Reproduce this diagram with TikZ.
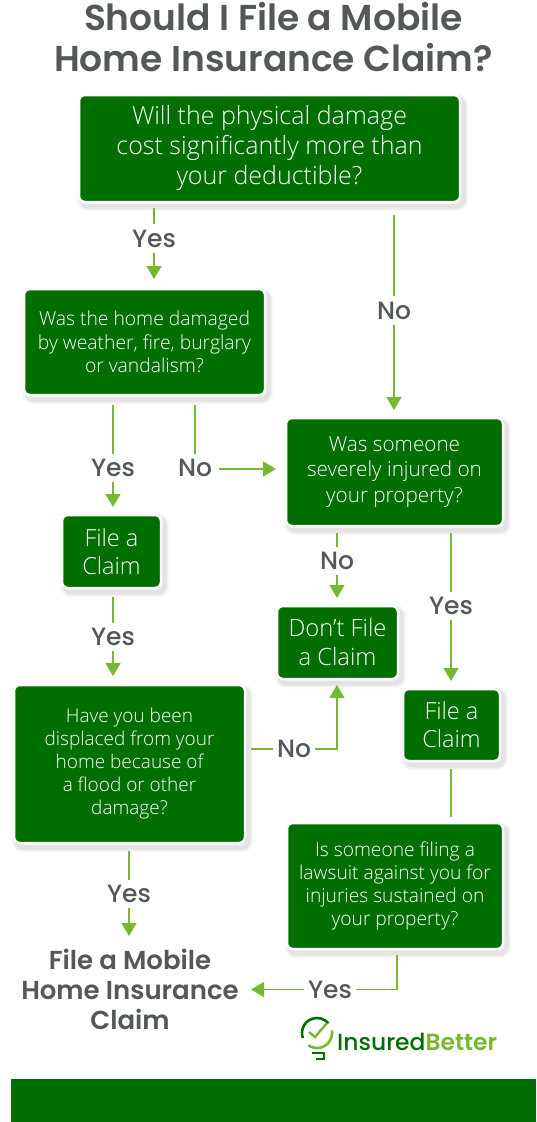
\documentclass[tikz,border=0pt]{standalone}
\usepackage{fontspec}
\usetikzlibrary{arrows.meta}
\setmainfont{Poppins}
\newfontfamily\ttlfont{Poppins SemiBold}
\newfontfamily\lblfont{Poppins Medium}
\newfontfamily\boxfont{Open Sans Light}
\definecolor{dgreen}{HTML}{006F00}
\definecolor{lgreen}{HTML}{76B82F}
\definecolor{tgrey}{HTML}{53585A}
\tikzset{
  softshadow/.style={
    preaction={draw=black,draw opacity=.025,line width=11pt,fill=none,transform canvas={shift={(3pt,-4pt)}}},
    preaction={draw=black,draw opacity=.035,line width=8pt,fill=none,transform canvas={shift={(3pt,-4pt)}}},
    preaction={draw=black,draw opacity=.05,line width=5pt,fill=none,transform canvas={shift={(3pt,-4pt)}}},
  },
  card/.style={softshadow,draw=white,line width=2.5pt,fill=dgreen,rounded corners=6pt,text=white,
    align=center,inner sep=0pt},
  lbl/.style={text=tgrey,font=\lblfont\fontsize{25}{25}\selectfont,inner xsep=4pt,inner ysep=0pt,minimum height=28pt},
  conn/.style={draw=lgreen,line width=1.1pt},
  arr/.style={conn,-{Triangle[length=13pt,width=15pt]}},
}
\newcommand{\cardat}[8]{% name, x1,y1,x2,y2, size, leading, text
  \node[card,font=\boxfont\fontsize{#6}{#7}\selectfont,minimum width=#4pt-#2pt+2pt,minimum height=#5pt-#3pt+2pt] (#1) at ({(#2+#4)/2},{(#3+#5)/2}) {#8};}
\begin{document}
\begin{tikzpicture}[x=1pt,y=-1pt]
\useasboundingbox (0,0) rectangle (537,1122);
\fill[white] (0,0) rectangle (537,1122);
\node[font=\ttlfont\fontsize{36}{40.5}\selectfont,text=tgrey,align=center,inner sep=0pt] (title) at (273.5,37) {Should I File a Mobile\\Home Insurance Claim?};
\fill[dgreen] (11,1079) rectangle (536,1122);
\cardat{q1}{80}{96}{459}{201}{25}{30}{Will the physical damage\\cost significantly more than\\your deductible?}
\cardat{q2}{25}{290}{264}{394}{19.3}{23.5}{Was the home damaged\\by weather, fire, burglary\\or vandalism?}
\cardat{q3}{287}{419}{502}{525}{20.7}{25.5}{Was someone\\severely injured on\\your property?}
\cardat{f1}{63}{516}{160}{587}{23.5}{28}{File a\\Claim}
\cardat{d1}{278}{607}{397}{678}{23.8}{29}{Don’t File\\a Claim}
\cardat{q4}{15}{686}{244}{842}{19}{23}{Have you been\\displaced from your\\home because of\\a flood or other\\damage?}
\cardat{f2}{404}{690}{499}{760}{23.5}{28}{File a\\Claim}
\cardat{q5}{288}{824}{502}{948}{19.2}{23}{Is someone filing a\\lawsuit against you for\\injuries sustained on\\your property?}
% labels
\node[lbl] (y1) at (154,238.5) {Yes};
\node[lbl] (n1) at (394,310.5) {No};
\node[lbl] (y2) at (113,468) {Yes};
\node[lbl] (n2) at (195,468) {No};
\node[lbl] (y3) at (113,637) {Yes};
\node[lbl] (n3) at (337,561) {No};
\node[lbl] (y4) at (451,606) {Yes};
\node[lbl] (n4) at (294,749) {No};
\node[lbl] (y5) at (129,894) {Yes};
\node[lbl] (y6) at (330,990) {Yes};
\node[font=\ttlfont\fontsize{26}{30}\selectfont,text=tgrey,align=center,inner sep=0pt] (end) at (130,989) {File a Mobile\\Home Insurance\\Claim};
% free ends
\coordinate (a1) at (154,208); \coordinate (a2) at (154,279);
\coordinate (b1) at (394,215); \coordinate (b2) at (394,410);
\coordinate (c1) at (113,405); \coordinate (c2) at (113,507);
\coordinate (e1) at (195,405); \coordinate (e2) at (276,469);
\coordinate (g1) at (113,597); \coordinate (g2) at (113,676);
\coordinate (h1) at (337,533); \coordinate (h2) at (337,598);
\coordinate (i1) at (451,533); \coordinate (i2) at (451,681);
\coordinate (j1) at (451,769); \coordinate (j2) at (451,817);
\coordinate (k1) at (251,749); \coordinate (k2) at (337,749); \coordinate (k3) at (337,685);
\coordinate (l1) at (129,851); \coordinate (l2) at (129,936);
\coordinate (m1) at (397,955); \coordinate (m2) at (397,989.5); \coordinate (m3) at (251,989.5);
% connectors
\draw[conn] (a1) -- (y1); \draw[arr] (y1) -- (a2);
\draw[conn] (b1) -- (n1); \draw[arr] (n1) -- (b2);
\draw[conn] (c1) -- (y2); \draw[arr] (y2) -- (c2);
\draw[conn] (e1) -- (n2); \draw[arr] (n2.east |- e2) ++(3,0) -- (e2);
\draw[conn] (g1) -- (y3); \draw[arr] (y3) -- (g2);
\draw[conn] (h1) -- (n3); \draw[arr] (n3) -- (h2);
\draw[conn] (i1) -- (y4); \draw[arr] (y4) -- (i2);
\draw[conn] (j1) -- (j2);
\draw[conn] (k1) -- (n4); \draw[arr] (n4) -- (k2) -- (k3);
\draw[conn] (l1) -- (y5); \draw[arr] (y5) -- (l2);
\draw[conn] (m1) -- (m2) -- (y6.east |- m2); \draw[arr] (y6.west |- m2) -- (m3);
% logo (arc angles in image sense, y down)
\draw[dgreen,line width=2.6pt] (302.9,1038.1) arc[start angle=160,end angle=320,radius=15];
\draw[lgreen,line width=2.6pt] (331.8,1030.4) arc[start angle=-10,end angle=125,radius=15];
\draw[lgreen,line width=2.4pt] (309,1032) -- (315,1037) -- (327,1023);
\draw[dgreen,line width=1.8pt] (312,1053) -- (324,1053) -- (324,1059) -- (316,1059);
\node[anchor=west,inner sep=0pt,font=\lblfont\fontsize{23.4}{25}\selectfont] (logo) at (337,1042) {\textcolor{dgreen}{Insured}\textcolor{lgreen}{\ttlfont Better}};
\end{tikzpicture}
\end{document}
